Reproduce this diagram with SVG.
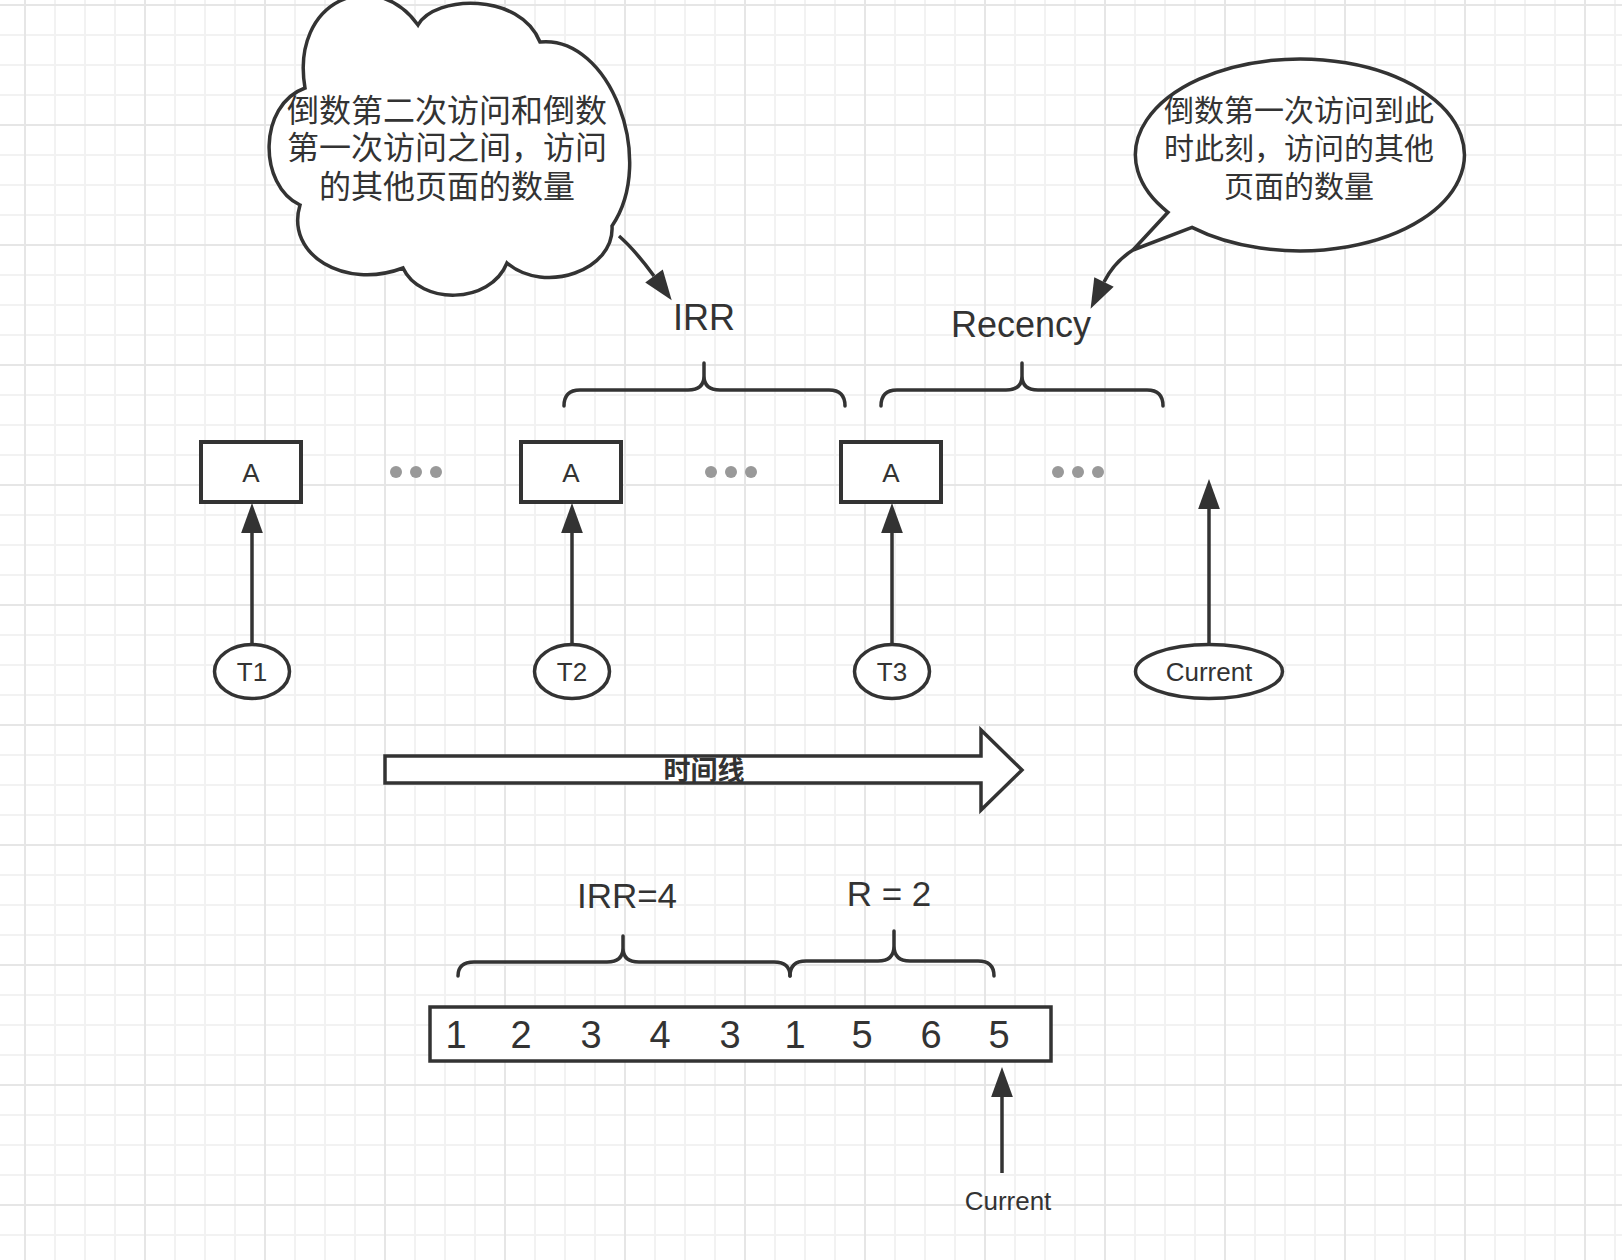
<svg xmlns="http://www.w3.org/2000/svg" width="1622" height="1260" viewBox="0 0 1622 1260">
<defs>
<pattern id="grid" width="120" height="120" patternUnits="userSpaceOnUse" x="24" y="4">
<rect width="120" height="120" fill="#ffffff"/>
<path d="M31 0V120M61 0V120M91 0V120M0 31H120M0 61H120M0 91H120" stroke="#f2f2f2" stroke-width="2"/>
<path d="M1 0V120M0 1H120" stroke="#e6e6e6" stroke-width="2"/>
</pattern>
<marker id="ah" markerUnits="userSpaceOnUse" markerWidth="30" markerHeight="22" viewBox="0 0 29 21" refX="0" refY="10.5" orient="auto" overflow="visible">
<path d="M0 0L29 10.5L0 21Z" fill="#333333"/>
</marker>
<style>
.shape{fill:#ffffff;stroke:#333333;stroke-width:3.5}
.box{fill:#ffffff;stroke:#333333;stroke-width:4}
.brace{fill:none;stroke:#333333;stroke-width:3.5;stroke-linecap:round}
.conn{fill:none;stroke:#333333;stroke-width:3.5}
.dot{fill:#999999}
.t{font-family:"Liberation Sans",Arial,Helvetica,sans-serif;fill:#333333;text-anchor:middle}
.cjk{font-family:"Liberation Sans","Noto Sans CJK SC",sans-serif;fill:#333333;text-anchor:middle}
</style>
</defs>
<rect x="0" y="0" width="1622" height="1260" fill="url(#grid)"/>

<g id="cloud">
<path class="shape" stroke-width="3" d="M305 88C290 0 375 -35 418 25C435 -5 520 -8 540 42C610 35 657 160 612 226C615 270 545 295 507 263C490 305 420 305 403 268C345 290 285 255 300 205C258 185 258 105 305 88Z"/>
<text class="cjk" font-size="32" x="447" y="122">倒数第二次访问和倒数</text>
<text class="cjk" font-size="32" x="447" y="159">第一次访问之间，访问</text>
<text class="cjk" font-size="32" x="447" y="198">的其他页面的数量</text>
</g>

<g id="bubble">
<path class="shape" stroke-width="3" d="M1168 212.3L1133 250L1192 227.4A164.5 96 0 1 0 1168 212.3Z"/>
<text class="cjk" font-size="30" x="1299" y="121">倒数第一次访问到此</text>
<text class="cjk" font-size="30" x="1299" y="159">时此刻，访问的其他</text>
<text class="cjk" font-size="30" x="1299" y="197">页面的数量</text>
</g>

<g id="label-irr"><text class="t" font-size="36" x="704" y="330">IRR</text></g>
<g id="label-recency"><text class="t" font-size="36" x="1021" y="337">Recency</text></g>

<g id="brace-irr"><path class="brace" d="M564 406Q564 390 580 390L688 390Q704 390 704 376L704 363M704 376Q704 390 720 390L829 390Q845 390 845 406"/></g>
<g id="brace-recency"><path class="brace" d="M881 406Q881 390 897 390L1006 390Q1022 390 1022 376L1022 363M1022 376Q1022 390 1038 390L1147 390Q1163 390 1163 406"/></g>

<g id="box-a1"><rect class="box" x="201" y="442" width="100" height="60"/><text class="t" font-size="26" x="251" y="482">A</text></g>
<g id="box-a2"><rect class="box" x="521" y="442" width="100" height="60"/><text class="t" font-size="26" x="571" y="482">A</text></g>
<g id="box-a3"><rect class="box" x="841" y="442" width="100" height="60"/><text class="t" font-size="26" x="891" y="482">A</text></g>

<g id="dots1"><circle class="dot" cx="396" cy="472" r="6"/><circle class="dot" cx="416" cy="472" r="6"/><circle class="dot" cx="436" cy="472" r="6"/></g>
<g id="dots2"><circle class="dot" cx="711" cy="472" r="6"/><circle class="dot" cx="731" cy="472" r="6"/><circle class="dot" cx="751" cy="472" r="6"/></g>
<g id="dots3"><circle class="dot" cx="1058" cy="472" r="6"/><circle class="dot" cx="1078" cy="472" r="6"/><circle class="dot" cx="1098" cy="472" r="6"/></g>

<g id="t1"><ellipse class="shape" cx="252" cy="671.5" rx="37.5" ry="27"/><text class="t" font-size="26" x="252" y="681">T1</text></g>
<g id="t2"><ellipse class="shape" cx="572" cy="671.5" rx="37.5" ry="27"/><text class="t" font-size="26" x="572" y="681">T2</text></g>
<g id="t3"><ellipse class="shape" cx="892" cy="671.5" rx="37.5" ry="27"/><text class="t" font-size="26" x="892" y="681">T3</text></g>
<g id="current"><ellipse class="shape" cx="1209" cy="671.5" rx="73.5" ry="27"/><text class="t" font-size="26" x="1209" y="681">Current</text></g>

<g id="timeline">
<path class="shape" d="M385 756L981 756L981 730L1022 770L981 810L981 783L385 783Z"/>
<text class="cjk" font-size="27" font-weight="bold" x="704" y="780">时间线</text>
</g>

<g id="label-irr4"><text class="t" font-size="35" x="627" y="908">IRR=4</text></g>
<g id="label-r2"><text class="t" font-size="35" x="889" y="906">R = 2</text></g>

<g id="brace-irr4"><path class="brace" d="M458 976Q458 962 474 962L607 962Q623 962 623 948L623 936M623 948Q623 962 639 962L774 962Q790 962 790 976"/></g>
<g id="brace-r2"><path class="brace" d="M790 976Q790 961 806 961L878 961Q894 961 894 946L894 931M894 946Q894 961 910 961L978 961Q994 961 994 976"/></g>

<g id="array">
<rect class="shape" x="430" y="1007" width="621" height="54"/>
<text class="t" font-size="38" y="1048"><tspan x="456">1</tspan><tspan x="521">2</tspan><tspan x="591">3</tspan><tspan x="660">4</tspan><tspan x="730">3</tspan><tspan x="795">1</tspan><tspan x="862">5</tspan><tspan x="931">6</tspan><tspan x="999">5</tspan></text>
</g>

<g id="label-current-bottom"><text class="t" font-size="26" x="1008" y="1210">Current</text></g>

<g id="connectors">
<path class="conn" marker-end="url(#ah)" d="M252 643V533"/>
<path class="conn" marker-end="url(#ah)" d="M572 643V533"/>
<path class="conn" marker-end="url(#ah)" d="M892 643V533"/>
<path class="conn" marker-end="url(#ah)" d="M1209 643V509"/>
<path class="conn" marker-end="url(#ah)" d="M1002 1173V1097"/>
<path class="conn" marker-end="url(#ah)" d="M619 236Q635 250 654 276"/>
<path class="conn" marker-end="url(#ah)" d="M1133 250Q1114 262 1104 282"/>
</g>
</svg>
